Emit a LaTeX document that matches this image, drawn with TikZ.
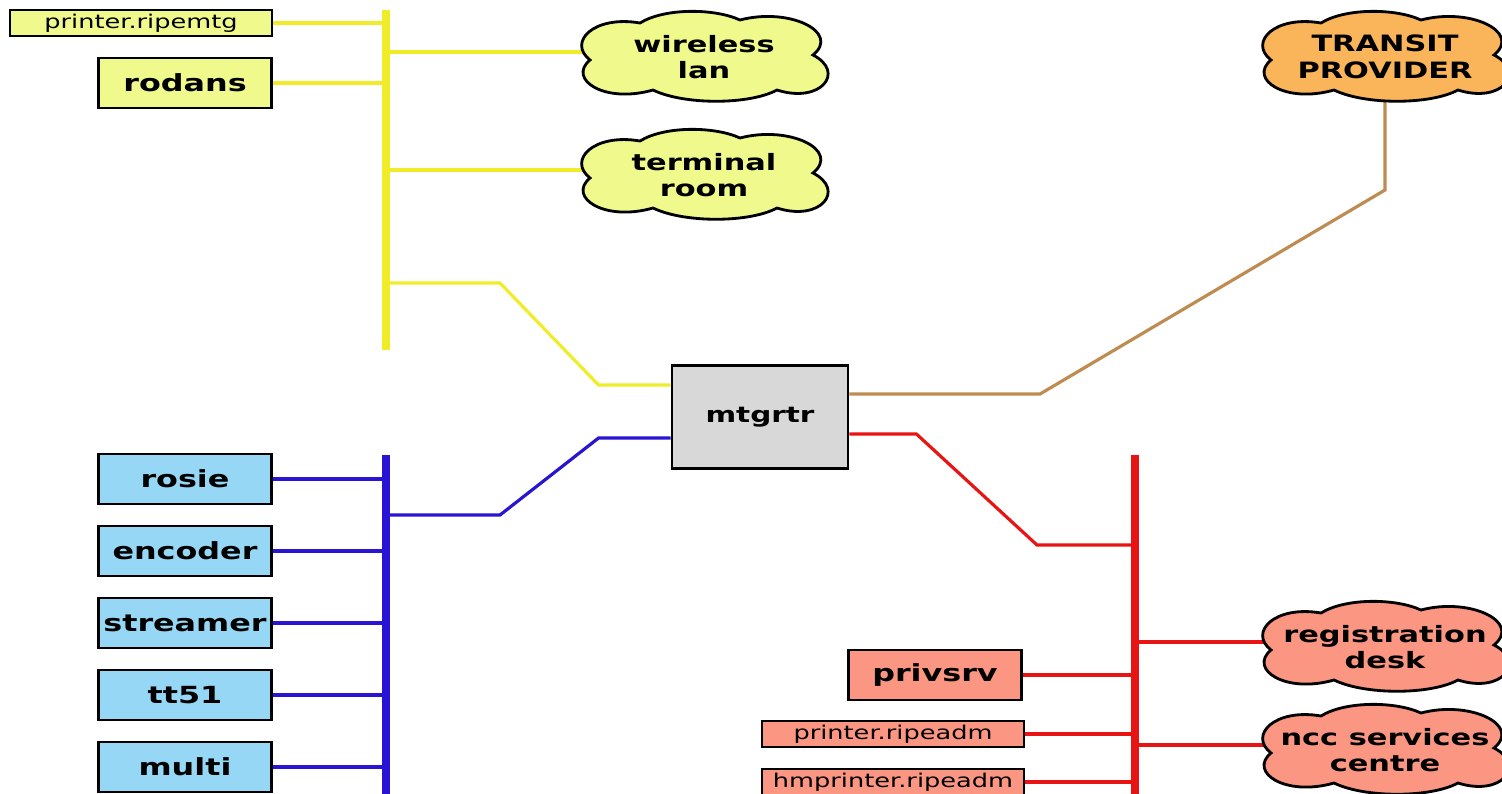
\documentclass[tikz,border=0pt]{standalone}
\usepackage{fontspec}
\setmainfont[FakeStretch=1.35]{DejaVu Sans}
\pgfdeclarelayer{background}
\pgfsetlayers{background,main}
\definecolor{lanyellow}{RGB}{240,236,40}
\definecolor{boxyellow}{RGB}{240,250,140}
\definecolor{lanblue}{RGB}{40,20,210}
\definecolor{boxblue}{RGB}{150,215,245}
\definecolor{lanred}{RGB}{232,20,20}
\definecolor{boxred}{RGB}{250,150,130}
\definecolor{upbrown}{RGB}{190,140,80}
\definecolor{boxorange}{RGB}{250,180,90}
\definecolor{boxgrey}{RGB}{216,216,216}

\begin{document}
\begin{tikzpicture}[x=0.01cm,y=-0.01cm,
    host/.style={draw,line width=0.8pt,minimum width=1.73cm,minimum height=0.5cm,inner sep=1pt,
        font=\bfseries\fontsize{6.7}{8}\selectfont},
    smallhost/.style={draw,line width=0.8pt,minimum width=2.62cm,minimum height=0.26cm,inner sep=0pt,
        font=\fontsize{5.4}{6}\selectfont},
    net/.style={minimum width=2.34cm,minimum height=0.86cm,inner sep=0pt,align=center,
        font=\bfseries\fontsize{6.4}{7.6}\selectfont},
    netcloud/.pic={
        \path[pic actions] (-64,-34) .. controls (-110,-42) and (-137,-15) .. (-114,3)
            .. controls (-137,22) and (-100,47) .. (-51,33)
            .. controls (-20,48) and (45,48) .. (73,33)
            .. controls (117,47) and (142,15) .. (109,-2)
            .. controls (137,-25) and (85,-50) .. (36,-37)
            .. controls (10,-49) and (-40,-49) .. (-64,-34) -- cycle;
    },
    cloudline/.style={draw,line width=0.8pt},
    bus/.style={line width=2pt},
    link/.style={line width=0.9pt}]
    \useasboundingbox (0,0) rectangle (1502,793);
    \clip (0,0) rectangle (1502,793);

    % buses
    \coordinate (ytop) at (386,10);
    \coordinate (ybot) at (386,350);
    \coordinate (btop) at (386,455);
    \coordinate (bbot) at (386,800);
    \coordinate (rtop) at (1135,455);
    \coordinate (rbot) at (1135,800);

    % router and transit
    \node[draw,line width=0.8pt,fill=boxgrey,minimum width=1.76cm,minimum height=1.03cm,
        font=\bfseries\fontsize{6.2}{8}\selectfont] (mtgrtr) at (760,417) {mtgrtr};
    \pic[cloudline,fill=boxorange] at (1385,57) {netcloud};
    \node[net] (transit) at (1385,57) {TRANSIT\\PROVIDER};

    % yellow lan
    \node[smallhost,fill=boxyellow] (printermtg) at (141,23) {printer.ripemtg};
    \node[host,fill=boxyellow] (rodans) at (185,83) {rodans};
    \pic[cloudline,fill=boxyellow] at (704,57) {netcloud};
    \node[net] (wlan) at (704,57) {wireless\\lan};
    \pic[cloudline,fill=boxyellow] at (704,175) {netcloud};
    \node[net] (termroom) at (704,175) {terminal\\room};
    \coordinate (yrtr) at (386,283);

    % blue lan
    \node[host,fill=boxblue] (rosie) at (185,479) {rosie};
    \node[host,fill=boxblue] (encoder) at (185,551) {encoder};
    \node[host,fill=boxblue] (streamer) at (185,623) {streamer};
    \node[host,fill=boxblue] (tt51) at (185,695) {tt51};
    \node[host,fill=boxblue] (multi) at (185,767) {multi};
    \coordinate (brtr) at (386,515);

    % red lan
    \node[host,fill=boxred] (privsrv) at (935,675) {privsrv};
    \node[smallhost,fill=boxred] (printeradm) at (893,734) {printer.ripeadm};
    \node[smallhost,fill=boxred] (hmprinter) at (893,782) {hmprinter.ripeadm};
    \pic[cloudline,fill=boxred] at (1385,647) {netcloud};
    \node[net] (regdesk) at (1385,647) {registration\\desk};
    \pic[cloudline,fill=boxred] at (1385,750) {netcloud};
    \node[net] (ncc) at (1385,750) {ncc services\\centre};
    \coordinate (rrtr) at (1135,545);

    \begin{pgfonlayer}{background}
    \draw[bus,lanyellow] (ytop) -- (ybot);
    \foreach \n in {printermtg,rodans}
        \draw[link,lanyellow] (\n.east) -- (\n.east -| ytop);
    \foreach \n in {wlan,termroom}
        \draw[link,lanyellow] ([yshift=0.5mm]\n.center) -- ([yshift=0.5mm]\n.west -| ytop);
    \draw[link,lanyellow] ([yshift=3.2mm]mtgrtr.west) -- ++(-72,0) -- (500,283) -- (yrtr);

    \draw[bus,lanblue] (btop) -- (bbot);
    \foreach \n in {rosie,encoder,streamer,tt51,multi}
        \draw[link,lanblue] (\n.east) -- (\n.east -| btop);
    \draw[link,lanblue] ([yshift=-2.1mm]mtgrtr.west) -- ++(-72,0) -- (500,515) -- (brtr);

    \draw[bus,lanred] (rtop) -- (rbot);
    \foreach \n in {privsrv,printeradm,hmprinter}
        \draw[link,lanred] (\n.east) -- (\n.east -| rtop);
    \foreach \n in {regdesk,ncc}
        \draw[link,lanred] ([yshift=0.5mm]\n.center) -- ([yshift=0.5mm]\n.west -| rtop);
    \draw[link,lanred] ([yshift=-1.7mm]mtgrtr.east) -- ++(67,0) -- (1037,545) -- (rrtr);

    \draw[link,upbrown] ([yshift=2.3mm]mtgrtr.east) -- (1040,394) -- (1385,190) -- (transit.center);
    \end{pgfonlayer}
\end{tikzpicture}
\end{document}
